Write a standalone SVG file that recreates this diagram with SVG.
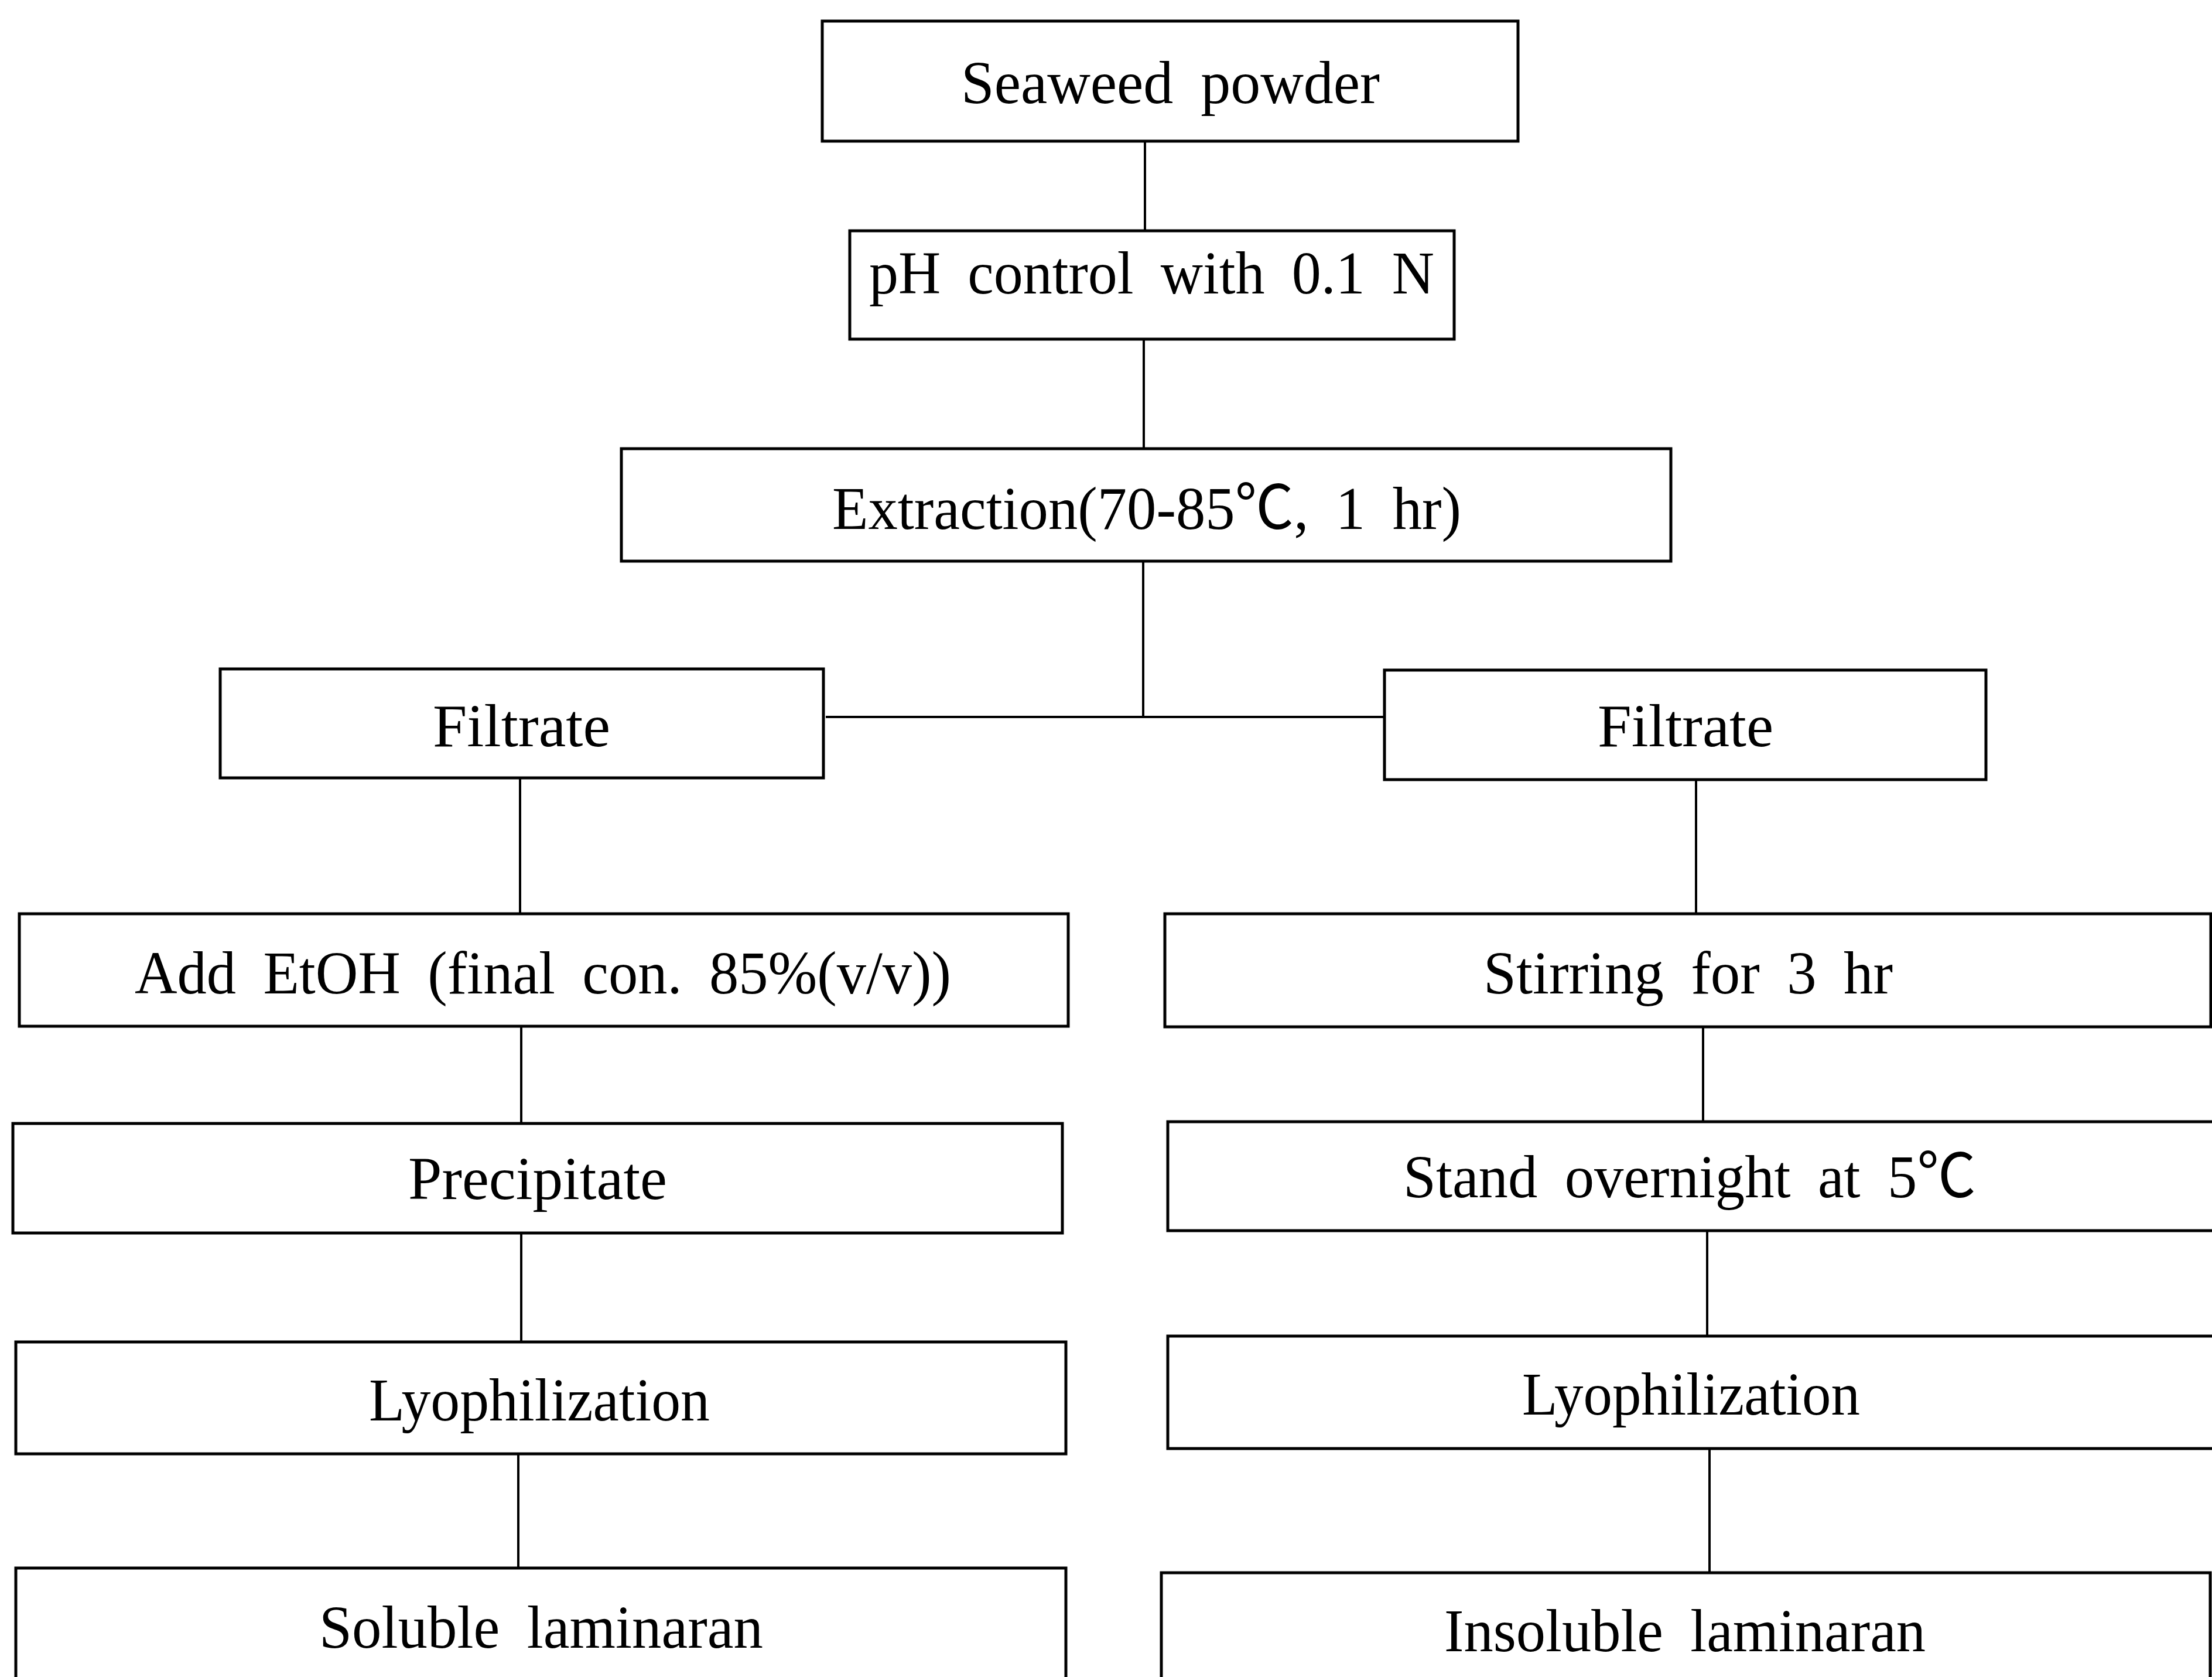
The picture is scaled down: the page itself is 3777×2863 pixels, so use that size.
<svg xmlns="http://www.w3.org/2000/svg" width="3777" height="2863" viewBox="0 0 3777 2863">
  <style>
    .box { fill: none; stroke: #000; stroke-width: 5; }
    .conn line { stroke: #000; stroke-width: 4; }
    .lbl { font-family: "Liberation Serif", "Noto Sans CJK KR", "Noto Sans CJK SC", serif; font-size: 104px; fill: #000; word-spacing: 22px; }
  </style>
  <rect x="0" y="0" width="3777" height="2863" fill="#fff"/>

  <!-- connectors -->
  <g id="connectors" class="conn">
    <line x1="1955" y1="241" x2="1955" y2="394"/>
    <line x1="1953" y1="579" x2="1953" y2="766"/>
    <line x1="1952" y1="958" x2="1952" y2="1226"/>
    <line x1="1410" y1="1224" x2="2364" y2="1224"/>
    <line x1="888" y1="1328" x2="888" y2="1560"/>
    <line x1="2896" y1="1331" x2="2896" y2="1560"/>
    <line x1="890" y1="1752" x2="890" y2="1918"/>
    <line x1="2908" y1="1754" x2="2908" y2="1915"/>
    <line x1="890" y1="2105" x2="890" y2="2291"/>
    <line x1="2915" y1="2101" x2="2915" y2="2281"/>
    <line x1="885" y1="2482" x2="885" y2="2677"/>
    <line x1="2919" y1="2473" x2="2919" y2="2685"/>
  </g>

  <!-- process steps -->
  <g id="seaweed">
    <rect class="box" x="1404" y="36" width="1188" height="205"/>
    <text class="lbl" x="1641" y="176" textLength="715" lengthAdjust="spacingAndGlyphs">Seaweed powder</text>
  </g>
  <g id="ph-control">
    <rect class="box" x="1451" y="394" width="1032" height="185"/>
    <text class="lbl" x="1484" y="501" textLength="965" lengthAdjust="spacingAndGlyphs">pH control with 0.1 N</text>
  </g>
  <g id="extraction">
    <rect class="box" x="1061" y="766" width="1792" height="192"/>
    <text class="lbl" x="1421" y="903" textLength="1074" lengthAdjust="spacingAndGlyphs">Extraction(70-85℃, 1 hr)</text>
  </g>
  <g id="filtrate-left">
    <rect class="box" x="376" y="1142" width="1030" height="186"/>
    <text class="lbl" x="739" y="1274" textLength="303" lengthAdjust="spacingAndGlyphs">Filtrate</text>
  </g>
  <g id="filtrate-right">
    <rect class="box" x="2364" y="1144" width="1027" height="187"/>
    <text class="lbl" x="2728" y="1274" textLength="300" lengthAdjust="spacingAndGlyphs">Filtrate</text>
  </g>
  <g id="add-etoh">
    <rect class="box" x="33" y="1560" width="1791" height="192"/>
    <text class="lbl" x="230" y="1696" textLength="1394" lengthAdjust="spacingAndGlyphs">Add EtOH (final con. 85%(v/v))</text>
  </g>
  <g id="stirring">
    <rect class="box" x="1989" y="1560" width="1786" height="193"/>
    <text class="lbl" x="2533" y="1696" textLength="699" lengthAdjust="spacingAndGlyphs">Stirring for 3 hr</text>
  </g>
  <g id="precipitate">
    <rect class="box" x="22" y="1918" width="1792" height="187"/>
    <text class="lbl" x="697" y="2047" textLength="442" lengthAdjust="spacingAndGlyphs">Precipitate</text>
  </g>
  <g id="stand-overnight">
    <rect class="box" x="1994" y="1915" width="1800" height="186"/>
    <text class="lbl" x="2396" y="2044" textLength="978" lengthAdjust="spacingAndGlyphs">Stand overnight at 5℃</text>
  </g>
  <g id="lyophilization-left">
    <rect class="box" x="27" y="2291" width="1793" height="191"/>
    <text class="lbl" x="630" y="2425" textLength="582" lengthAdjust="spacingAndGlyphs">Lyophilization</text>
  </g>
  <g id="lyophilization-right">
    <rect class="box" x="1994" y="2281" width="1800" height="192"/>
    <text class="lbl" x="2599" y="2415" textLength="577" lengthAdjust="spacingAndGlyphs">Lyophilization</text>
  </g>
  <g id="soluble-laminaran">
    <rect class="box" x="27" y="2677" width="1793" height="220"/>
    <text class="lbl" x="545" y="2813" textLength="758" lengthAdjust="spacingAndGlyphs">Soluble laminaran</text>
  </g>
  <g id="insoluble-laminaran">
    <rect class="box" x="1983" y="2685" width="1791" height="220"/>
    <text class="lbl" x="2466" y="2819" textLength="822" lengthAdjust="spacingAndGlyphs">Insoluble laminaran</text>
  </g>
</svg>
